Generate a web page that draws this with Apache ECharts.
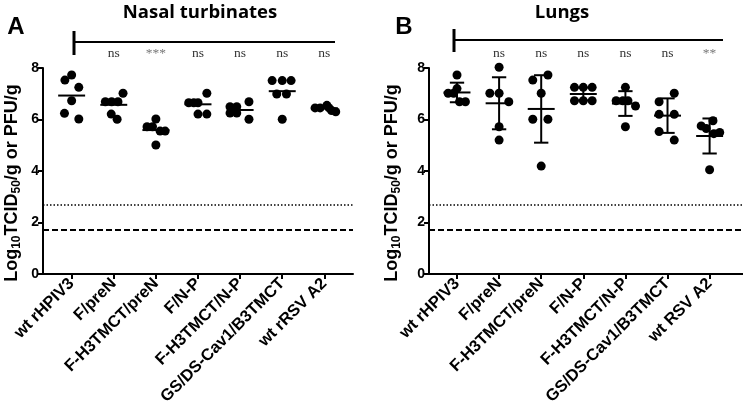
<!DOCTYPE html>
<html>
<head>
<meta charset="utf-8">
<script src="https://cdn.jsdelivr.net/npm/echarts@6/dist/echarts.min.js"></script>
<style>html,body{margin:0;padding:0;background:#fff}#c{width:743px;height:417px}</style>
</head>
<body>
<div id="c"></div>
<script>
// ---- data ----
const categoriesA = ['wt rHPIV3','F/preN','F-H3TMCT/preN','F/N-P','F-H3TMCT/N-P','GS/DS-Cav1/B3TMCT','wt rRSV A2'];
const categoriesB = ['wt rHPIV3','F/preN','F-H3TMCT/preN','F/N-P','F-H3TMCT/N-P','GS/DS-Cav1/B3TMCT','wt RSV A2'];
const valuesA = [
  [7.73,7.53,7.25,6.73,6.24,6.02],
  [7.02,6.69,6.69,6.69,6.21,6.01],
  [6.02,5.72,5.72,5.55,5.55,5.01],
  [7.02,6.65,6.65,6.65,6.21,6.21],
  [6.69,6.50,6.50,6.25,6.25,6.01],
  [7.51,7.51,7.51,6.99,6.99,6.01],
  [6.45,6.45,6.55,6.45,6.35,6.30]
];
const jitterA = [
  [0,-0.16,0.17,0,-0.17,0.17],
  [0.22,-0.2,-0.05,0.1,-0.06,0.08],
  [0,-0.21,-0.08,0.1,0.22,0],
  [0.21,-0.22,-0.1,0,0,0.21],
  [0.21,-0.24,-0.08,-0.24,-0.08,0.21],
  [-0.24,0,0.21,-0.13,0.1,0],
  [-0.22,-0.1,0.06,0.11,0.17,0.27]
];
const meanA = [6.93,6.57,5.59,6.59,6.37,7.10,6.43];
const valuesB = [
  [7.73,7.20,7.02,7.02,6.69,6.69],
  [8.03,7.02,7.02,6.69,5.72,5.20],
  [7.73,7.53,7.02,6.01,6.01,4.19],
  [7.25,7.25,7.25,6.73,6.73,6.73],
  [7.25,6.73,6.73,6.73,6.52,5.72],
  [7.02,6.69,6.20,6.20,5.53,5.20],
  [5.95,5.75,5.65,5.50,5.45,4.05]
];
const jitterB = [
  [0,0,-0.21,-0.08,0.06,0.2],
  [0,-0.22,0,0.23,0,0],
  [0.16,-0.2,0,-0.2,0.16,0],
  [-0.21,0,0.21,-0.21,0,0.21],
  [0,-0.22,-0.06,0.06,0.24,0],
  [0.16,-0.2,-0.2,0.16,-0.2,0.16],
  [0.08,-0.2,-0.08,0.24,0.1,0]
];
const meanB = [7.05,6.63,6.41,6.99,6.62,6.15,5.36];
const sdB = [0.38,1.01,1.31,0.25,0.48,0.67,0.68];
const sigA = ['ns','***','ns','ns','ns','ns'];
const sigB = ['ns','ns','ns','ns','ns','**'];
const dottedLimit = 2.7;
const dashedLimit = 1.7;

// ---- build ----
const chart = echarts.init(document.getElementById('c'), null, {renderer:'canvas'});
function pts(vals, jit){
  const out = [];
  vals.forEach((arr,i)=>arr.forEach((v,k)=>out.push([i + jit[i][k], v])));
  return out;
}
const idx = categoriesA.map((_,i)=>i);
const labelFont = {fontFamily:'Liberation Sans, Arial', fontWeight:'bold', color:'#000'};
function xAxis(grid, cats, min, max){
  return {
    type:'value', gridIndex:grid, min:min, max:max,
    splitLine:{show:false},
    axisLine:{show:true, onZero:false, lineStyle:{color:'#000', width:2}},
    axisTick:{show:true, customValues:idx, length:5, lineStyle:{color:'#000', width:2}},
    axisLabel:Object.assign({customValues:idx, rotate:45, fontSize:16.5, margin:7,
      formatter:v=>cats[Math.round(v)] || ''}, labelFont)
  };
}
function yAxis(grid){
  return {
    type:'value', gridIndex:grid, min:0, max:8, interval:2,
    splitLine:{show:false},
    axisLine:{show:true, onZero:false, lineStyle:{color:'#000', width:2}},
    axisTick:{show:true, length:5, lineStyle:{color:'#000', width:2}},
    axisLabel:Object.assign({fontSize:14, margin:4}, labelFont)
  };
}
const refLines = {
  silent:true, symbol:'none', label:{show:false},
  data:[
    {yAxis:dottedLimit, lineStyle:{type:[1.5,2], width:1.5, color:'#000'}},
    {yAxis:dashedLimit, lineStyle:{type:[6,3], width:2, color:'#000'}}
  ]
};
function scatter(grid, data){
  return {type:'scatter', xAxisIndex:grid, yAxisIndex:grid, data:data, symbolSize:9,
    clip:false, itemStyle:{color:'#000', opacity:1}, markLine:refLines, z:3};
}
function meanSeries(grid, means, sds){
  return {
    type:'custom', xAxisIndex:grid, yAxisIndex:grid, z:4, clip:false,
    data: means.map((m,i)=>[i, m, sds ? sds[i] : 0]),
    renderItem:function(params, api){
      const i = api.value(0), m = api.value(1), s = api.value(2);
      const st = {stroke:'#000', lineWidth:2};
      const ch = [];
      const a = api.coord([i-0.32, m]), b = api.coord([i+0.32, m]);
      ch.push({type:'line', shape:{x1:a[0],y1:a[1],x2:b[0],y2:b[1]}, style:st});
      if (sds){
        const t = api.coord([i, m+s]), u = api.coord([i, m-s]);
        const tl = api.coord([i-0.17, m+s]), tr = api.coord([i+0.17, m+s]);
        const bl = api.coord([i-0.17, m-s]), br = api.coord([i+0.17, m-s]);
        ch.push({type:'line', shape:{x1:t[0],y1:t[1],x2:u[0],y2:u[1]}, style:st});
        ch.push({type:'line', shape:{x1:tl[0],y1:tl[1],x2:tr[0],y2:tr[1]}, style:st});
        ch.push({type:'line', shape:{x1:bl[0],y1:bl[1],x2:br[0],y2:br[1]}, style:st});
      }
      return {type:'group', children:ch};
    }
  };
}
function sigSeries(grid, sig){
  return {
    type:'custom', xAxisIndex:grid, yAxisIndex:grid, clip:false, silent:true,
    data: sig.map((s,i)=>[i+1, 8]),
    renderItem:function(params, api){
      const p = api.coord([api.value(0), api.value(1)]);
      return {type:'text', x:p[0], y:p[1]-15, style:{text:sig[params.dataIndex],
        fontFamily:'Liberation Serif, Times New Roman', fontSize:13.5,
        fill:sig[params.dataIndex]==='ns' ? '#333' : '#777',
        align:'center', verticalAlign:'middle'}};
    }
  };
}
const yTitle = (x)=>({
  type:'text', x:x, y:183, rotation:Math.PI/2,
  style:{
    text:'{m|Log}{s|10}{m|TCID}{s|50}{m|/g or PFU/g}',
    align:'center', verticalAlign:'middle',
    rich:{
      m:{fontFamily:'Liberation Sans, Arial', fontWeight:'bold', fontSize:18, lineHeight:22, fill:'#000'},
      s:{fontFamily:'Liberation Sans, Arial', fontWeight:'bold', fontSize:12, lineHeight:12, verticalAlign:'bottom', fill:'#000'}
    }
  }
});
chart.setOption({
  animation:false,
  grid:[
    {left:43, top:68, width:310, height:206},
    {left:429, top:68, width:314, height:206}
  ],
  xAxis:[xAxis(0, categoriesA, -0.68, 6.68), xAxis(1, categoriesB, -0.665, 6.793)],
  yAxis:[yAxis(0), yAxis(1)],
  series:[
    scatter(0, pts(valuesA, jitterA)),
    scatter(1, pts(valuesB, jitterB)),
    meanSeries(0, meanA, null),
    meanSeries(1, meanB, sdB),
    sigSeries(0, sigA),
    sigSeries(1, sigB)
  ],
  graphic:[
    {type:'text', x:200, y:13, style:{text:'Nasal turbinates', fontFamily:'Open Sans', fontWeight:'bold', fontSize:18.5, fill:'#000', align:'center', verticalAlign:'middle'}},
    {type:'text', x:562, y:13, style:{text:'Lungs', fontFamily:'Open Sans', fontWeight:'bold', fontSize:18.5, fill:'#000', align:'center', verticalAlign:'middle'}},
    {type:'text', x:16, y:27, style:{text:'A', fontFamily:'Liberation Sans, Arial', fontWeight:'bold', fontSize:24, fill:'#000', align:'center', verticalAlign:'middle'}},
    {type:'text', x:404, y:27, style:{text:'B', fontFamily:'Liberation Sans, Arial', fontWeight:'bold', fontSize:24, fill:'#000', align:'center', verticalAlign:'middle'}},
    {type:'line', shape:{x1:74, y1:42, x2:335, y2:42}, style:{stroke:'#000', lineWidth:2}},
    {type:'line', shape:{x1:74, y1:31, x2:74, y2:55}, style:{stroke:'#000', lineWidth:3}},
    {type:'line', shape:{x1:454, y1:40, x2:723, y2:40}, style:{stroke:'#000', lineWidth:2}},
    {type:'line', shape:{x1:454, y1:29, x2:454, y2:52}, style:{stroke:'#000', lineWidth:3}},
    yTitle(12),
    yTitle(392)
  ]
});
</script>
</body>
</html>
